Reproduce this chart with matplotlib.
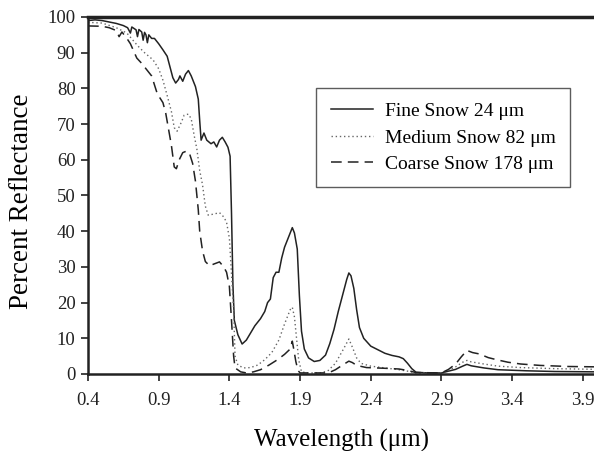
import numpy as np
import matplotlib
matplotlib.use("Agg")
import matplotlib.pyplot as plt

plt.rcParams['font.family'] = ['Liberation Serif', 'DejaVu Serif']
plt.rcParams['mathtext.fontset'] = 'stix'

# Fine snow 24 um
wl_fine = [0.40, 0.45, 0.50, 0.55, 0.60, 0.65, 0.68, 0.70, 0.71, 0.74, 0.75, 0.76,
           0.78, 0.79, 0.80, 0.81, 0.82, 0.83, 0.85, 0.87, 0.90, 0.93, 0.96, 0.98,
           1.00, 1.02, 1.04, 1.05, 1.07, 1.09, 1.11, 1.13, 1.16, 1.18, 1.19, 1.20,
           1.22, 1.24, 1.27, 1.29, 1.31, 1.33, 1.35, 1.37, 1.39, 1.405, 1.415, 1.425,
           1.435, 1.46, 1.49, 1.52, 1.55, 1.58, 1.62, 1.65, 1.67, 1.69, 1.71, 1.73,
           1.75, 1.77, 1.79, 1.81, 1.83, 1.845, 1.86, 1.88, 1.895, 1.91, 1.93, 1.96,
           2.00, 2.04, 2.08, 2.11, 2.14, 2.17, 2.20, 2.23, 2.245, 2.26, 2.28, 2.30,
           2.32, 2.35, 2.40, 2.45, 2.50, 2.55, 2.60, 2.63, 2.66, 2.69, 2.72, 2.80,
           2.90, 2.95, 3.00, 3.05, 3.08, 3.11, 3.20, 3.30, 3.50, 3.70, 4.00]
r_fine = [99.0, 99.2, 99.0, 98.6, 98.2, 97.6, 97.0, 95.5, 97.2, 96.4, 94.5, 96.5,
          95.8, 93.5, 95.7, 95.0, 92.8, 95.0, 94.0, 94.0, 92.5, 90.8, 89.0, 86.0,
          83.0, 81.5, 82.5, 83.5, 82.0, 84.0, 85.0, 83.5, 80.5, 77.0, 71.0, 65.5,
          67.5, 65.5, 64.5, 65.0, 63.6, 65.5, 66.3, 65.0, 63.5, 61.0, 45.0, 25.0,
          15.0, 11.0, 8.4, 9.5, 11.5, 13.5, 15.5, 17.5, 20.0, 21.0, 27.0, 28.5,
          28.5, 32.5, 35.5, 37.5, 39.5, 41.0, 39.5, 35.0, 22.0, 12.0, 7.0, 4.5,
          3.5, 3.8, 5.3, 8.5, 12.5, 17.5, 22.0, 26.5, 28.3, 27.5, 24.0, 18.0,
          13.0, 10.0, 7.8, 6.8, 5.8, 5.2, 4.8, 4.3, 3.0, 1.5, 0.5, 0.3,
          0.3, 0.8, 1.3, 2.2, 2.7, 2.3, 1.7, 1.2, 0.9, 0.7, 0.6]

# Medium snow 82 um
wl_med = [0.40, 0.50, 0.60, 0.675, 0.75, 0.80, 0.86, 0.90, 0.93, 0.96, 0.99, 1.01,
          1.03, 1.06, 1.08, 1.11, 1.13, 1.15, 1.17, 1.19, 1.21, 1.23, 1.25, 1.29,
          1.33, 1.36, 1.38, 1.40, 1.415, 1.43, 1.44, 1.46, 1.50, 1.55, 1.60, 1.65,
          1.70, 1.75, 1.79, 1.83, 1.845, 1.86, 1.875, 1.89, 1.91, 1.95, 2.05, 2.10,
          2.15, 2.20, 2.245, 2.27, 2.30, 2.33, 2.40, 2.50, 2.60, 2.66, 2.72, 2.90,
          2.95, 3.00, 3.05, 3.08, 3.11, 3.20, 3.30, 3.46, 3.70, 4.00]
r_med = [98.5, 98.3, 97.0, 95.5, 92.0, 90.0, 88.0, 85.5, 82.3, 78.0, 73.5, 69.0,
         68.0, 70.5, 72.5, 72.8, 71.5, 67.0, 63.0, 57.0, 53.0, 47.0, 44.5, 44.8,
         45.2, 44.0, 42.5, 38.0, 28.0, 18.0, 5.0, 2.5, 1.7, 1.8, 2.5, 4.0,
         6.0, 9.5, 14.0, 18.0, 18.7, 16.0, 10.0, 4.0, 0.6, 0.3, 0.3, 1.0,
         3.0, 6.5, 9.8, 7.5, 4.5, 3.0, 2.2, 1.7, 1.2, 0.8, 0.3, 0.3,
         1.0, 2.0, 3.3, 3.8, 3.4, 2.8, 2.2, 1.8, 1.5, 1.3]

# Coarse snow 178 um
wl_coarse = [0.40, 0.50, 0.55, 0.60, 0.62, 0.64, 0.675, 0.70, 0.745, 0.78, 0.82, 0.85,
             0.87, 0.89, 0.93, 0.95, 0.97, 0.99, 1.01, 1.025, 1.045, 1.07, 1.10, 1.12,
             1.14, 1.16, 1.18, 1.19, 1.21, 1.23, 1.26, 1.29, 1.33, 1.36, 1.38, 1.40,
             1.415, 1.43, 1.44, 1.48, 1.52, 1.57, 1.62, 1.68, 1.74, 1.79, 1.83, 1.845,
             1.855, 1.87, 1.885, 1.90, 2.10, 2.15, 2.20, 2.245, 2.27, 2.30, 2.37, 2.50,
             2.60, 2.66, 2.72, 2.90, 2.95, 3.00, 3.04, 3.08, 3.12, 3.17, 3.23, 3.29,
             3.37, 3.46, 3.60, 3.80, 4.00]
r_coarse = [97.5, 97.4, 97.0, 96.2, 94.5, 95.8, 94.0, 92.5, 88.5, 87.0, 85.0, 83.5,
            81.0, 78.5, 76.0, 73.0, 68.5, 64.0, 58.0, 57.5, 60.0, 62.0, 62.5, 61.5,
            59.0, 54.0, 46.0, 40.0, 34.5, 31.5, 30.3, 30.8, 31.4, 30.0, 28.5, 24.5,
            15.0, 5.0, 1.7, 0.6, 0.3, 0.6, 1.2, 2.5, 4.0, 5.5, 7.0, 9.2,
            7.0, 3.5, 1.0, 0.3, 0.3, 1.2, 2.5, 3.6, 3.2, 2.4, 1.8, 1.6,
            1.4, 1.0, 0.4, 0.3, 1.3, 2.8, 4.8, 6.6, 6.0, 5.6, 4.6, 4.0,
            3.3, 2.8, 2.4, 2.1, 2.0]

labels = ["Fine Snow 24 \u03bcm", "Medium Snow 82 \u03bcm", "Coarse Snow 178 \u03bcm"]
xticks = [0.4, 0.9, 1.4, 1.9, 2.4, 2.9, 3.4, 3.9]
yticks = [0, 10, 20, 30, 40, 50, 60, 70, 80, 90, 100]

fig = plt.figure(figsize=(5.94, 4.51), dpi=100)
ax = fig.add_axes([88 / 594, 1 - 374 / 451, (597 - 88) / 594, (374 - 17) / 451])

ax.plot(wl_fine, r_fine, color='#222222', lw=1.1, ls='-', label=labels[0])
ax.plot(wl_med, r_med, color='#666666', lw=1.0, ls=(0, (1, 2)), label=labels[1])
ax.plot(wl_coarse, r_coarse, color='#222222', lw=1.1, ls=(0, (7, 4)), label=labels[2])

ax.set_xlim(0.4, 4.0)
ax.set_ylim(0, 100)
ax.set_xticks(xticks)
ax.set_xticklabels([f"{t:.1f}" for t in xticks])
ax.set_yticks(yticks)

for s in ['left', 'bottom']:
    ax.spines[s].set_linewidth(1.8)
    ax.spines[s].set_color('#222222')
ax.spines['top'].set_linewidth(2.5)
ax.spines['top'].set_color('#222222')
ax.spines['right'].set_visible(False)

ax.tick_params(axis='both', direction='out', length=5, width=1.2, colors='#222222',
               labelsize=13.5, pad=8)
ax.tick_params(axis='y', pad=4)

ax.set_xlabel("Wavelength (\u03bcm)", fontsize=18)
ax.set_ylabel("Percent Reflectance", fontsize=19.5)
ax.xaxis.set_label_coords(0.499, -0.155)
ax.yaxis.set_label_coords(-0.106, 0.485)

leg = ax.legend(loc='upper left', bbox_to_anchor=((316 - 88) / 509, 1 - (88 - 17) / 357),
                fontsize=14, frameon=True, fancybox=False, edgecolor='#333333',
                handlelength=2.2, handletextpad=0.6, labelspacing=0.45,
                borderpad=0.75, borderaxespad=0)
leg.get_frame().set_linewidth(1.0)

fig.savefig("out.png", dpi=100)
